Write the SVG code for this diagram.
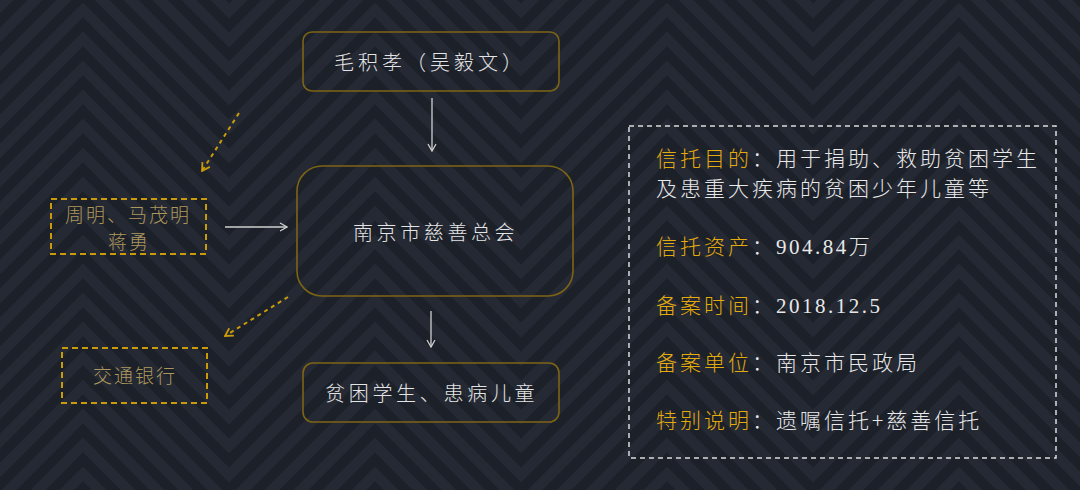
<svg xmlns="http://www.w3.org/2000/svg" width="1080" height="490" viewBox="0 0 1080 490">
  <defs>
    <pattern id="chev" patternUnits="userSpaceOnUse" x="-63" y="10" width="292" height="29">
      <rect x="0" y="0" width="292" height="29" fill="#1c2029"/>
      <g fill="none" stroke="#242934" stroke-width="10.25" stroke-linejoin="miter">
        <polyline points="-146,-203 0,-57 146,-203 292,-57 438,-203"/>
        <polyline points="-146,-174 0,-28 146,-174 292,-28 438,-174"/>
        <polyline points="-146,-145 0,1 146,-145 292,1 438,-145"/>
        <polyline points="-146,-116 0,30 146,-116 292,30 438,-116"/>
        <polyline points="-146,-87 0,59 146,-87 292,59 438,-87"/>
        <polyline points="-146,-58 0,88 146,-58 292,88 438,-58"/>
        <polyline points="-146,-29 0,117 146,-29 292,117 438,-29"/>
        <polyline points="-146,0 0,146 146,0 292,146 438,0"/>
        <polyline points="-146,29 0,175 146,29 292,175 438,29"/>
        <polyline points="-146,58 0,204 146,58 292,204 438,58"/>
      </g>
    </pattern>
    <marker id="arrW" markerUnits="userSpaceOnUse" viewBox="0 0 10 10" refX="9" refY="5" markerWidth="10" markerHeight="10" orient="auto">
      <path d="M2,1 L9,5 L2,9" fill="none" stroke="#cfcfcf" stroke-width="1.3"/>
    </marker>
    <marker id="arrG" markerUnits="userSpaceOnUse" viewBox="0 0 10 10" refX="9" refY="5" markerWidth="11" markerHeight="11" orient="auto">
      <path d="M2,1 L9,5 L2,9" fill="none" stroke="#c99a0a" stroke-width="1.6"/>
    </marker>
  </defs>
  <style>
    .node { fill: none; stroke: #7d6415; stroke-width: 1.6; }
    .dbox { fill: none; stroke: #c99a0a; stroke-width: 2; stroke-dasharray: 6 4; }
    .ibox { fill: none; stroke: #dcdcdc; stroke-width: 1.5; stroke-dasharray: 5 4; }
    .t { font-family: "Noto Sans CJK SC", "Noto Sans", sans-serif; font-weight: 300; fill: #e4e4e4; font-size: 20px; }
    .tg { font-family: "Noto Sans CJK SC", "Noto Sans", sans-serif; font-weight: 300; fill: #ae975c; font-size: 19px; letter-spacing: 2px; }
    .info { font-family: "Noto Sans CJK SC", "Noto Sans", sans-serif; font-weight: 300; fill: #e8e8e8; font-size: 21px; letter-spacing: 3px; }
    .lab { fill: #e3ab0e; }
    .num { font-family: "Liberation Serif", serif; font-weight: normal; letter-spacing: 2.5px; }
    .cw { fill: none; stroke: #cfcfcf; stroke-width: 1.3; }
    .cg { fill: none; stroke: #c99a0a; stroke-width: 2; stroke-dasharray: 4 4; }
  </style>
  <rect x="0" y="0" width="1080" height="490" fill="url(#chev)"/>

  <g id="connectors">
    <line class="cw" x1="432" y1="98" x2="432" y2="151" marker-end="url(#arrW)"/>
    <line class="cw" x1="431" y1="311" x2="431" y2="347" marker-end="url(#arrW)"/>
    <line class="cw" x1="225" y1="227" x2="287" y2="227" marker-end="url(#arrW)"/>
    <line class="cg" x1="239" y1="113" x2="202" y2="171" marker-end="url(#arrG)"/>
    <line class="cg" x1="288" y1="297" x2="225" y2="336" marker-end="url(#arrG)"/>
  </g>

  <g id="node-donor">
    <rect class="node" x="303" y="32" width="256" height="59" rx="9"/>
    <text class="t" x="334" y="70" font-size="21" letter-spacing="4">毛积孝（吴毅文）</text>
  </g>

  <g id="node-charity">
    <rect class="node" x="297" y="166" width="276" height="130" rx="25"/>
    <text class="t" x="353" y="240" letter-spacing="3.6">南京市慈善总会</text>
  </g>

  <g id="node-beneficiary">
    <rect class="node" x="303" y="363" width="256" height="59" rx="10"/>
    <text class="t" x="325" y="401" letter-spacing="3.7">贫困学生、患病儿童</text>
  </g>

  <g id="node-trustees">
    <rect class="dbox" x="51" y="199" width="155" height="55"/>
    <text class="tg" x="65" y="222">周明、马茂明</text>
    <text class="tg" x="129" y="249" text-anchor="middle">蒋勇</text>
  </g>

  <g id="node-bank">
    <rect class="dbox" x="62" y="348" width="145" height="55"/>
    <text class="tg" x="93" y="383">交通银行</text>
  </g>

  <g id="info-box">
    <rect class="ibox" x="629" y="126" width="427" height="332"/>
    <text class="info" x="656" y="166"><tspan class="lab">信托目的</tspan>：用于捐助、救助贫困学生</text>
    <text class="info" x="656" y="196">及患重大疾病的贫困少年儿童等</text>
    <text class="info" x="656" y="254"><tspan class="lab">信托资产</tspan>：<tspan class="num">904.84</tspan>万</text>
    <text class="info" x="656" y="313"><tspan class="lab">备案时间</tspan>：<tspan class="num">2018.12.5</tspan></text>
    <text class="info" x="656" y="370"><tspan class="lab">备案单位</tspan>：南京市民政局</text>
    <text class="info" x="656" y="428"><tspan class="lab">特别说明</tspan>：遗嘱信托+慈善信托</text>
  </g>
</svg>
